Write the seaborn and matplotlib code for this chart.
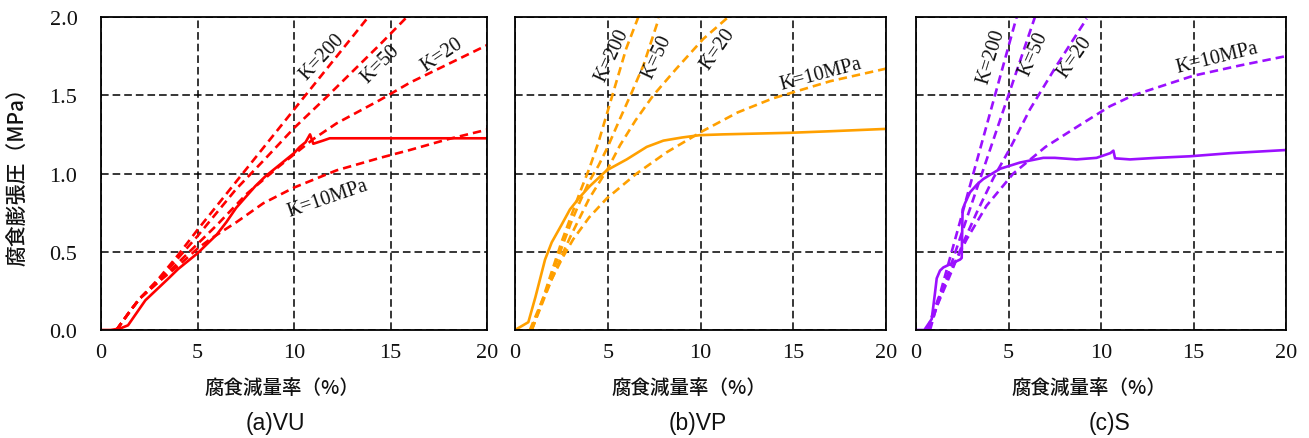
import numpy as np
import pandas as pd
import seaborn as sns
import matplotlib.pyplot as plt

# ---- (a) VU ----
vu_x = [0, 0.5, 1.0, 1.4, 1.85, 2.3, 2.9, 3.5, 4.0, 4.5, 5.0, 5.5, 6.0, 6.5, 7.0, 7.5, 8.0, 8.5, 9.0,
        9.5, 10.0, 10.3, 10.6, 10.83, 11.0, 11.5, 11.85, 14.0, 16.0, 18.0, 20.0]
vu_y = [0, 0.0, 0.01, 0.03, 0.11, 0.19, 0.26, 0.33, 0.39, 0.44, 0.49, 0.55, 0.61, 0.69, 0.78, 0.85, 0.92,
        0.98, 1.03, 1.08, 1.13, 1.17, 1.20, 1.25, 1.19, 1.21, 1.225, 1.225, 1.225, 1.225, 1.225]
vu_k200_x = [0.8, 1.5, 2.0, 3.0, 4.0, 5.0, 13.85]
vu_k200_y = [0, 0.12, 0.2, 0.33, 0.48, 0.64, 2.0]
vu_k50_x = [0.8, 1.5, 2.0, 3.0, 4.0, 5.0, 6.0, 7.0, 8.4, 10.0, 11.7, 14.5, 15.85]
vu_k50_y = [0, 0.12, 0.2, 0.32, 0.46, 0.60, 0.75, 0.90, 1.08, 1.29, 1.49, 1.83, 2.0]
vu_k20_x = [0.8, 1.5, 2.0, 3.0, 4.0, 5.0, 6.0, 7.55, 9.27, 11.0, 12.2, 14.46, 16.0, 18.0, 20.0]
vu_k20_y = [0, 0.12, 0.2, 0.31, 0.43, 0.55, 0.67, 0.87, 1.05, 1.22, 1.32, 1.47, 1.58, 1.70, 1.82]
vu_k10_x = [0.8, 1.5, 2.0, 3.0, 4.0, 5.0, 5.65, 7.03, 8.41, 10.0, 12.2, 14.46, 16.0, 18.0, 20.0]
vu_k10_y = [0, 0.12, 0.2, 0.31, 0.41, 0.52, 0.58, 0.69, 0.81, 0.91, 1.02, 1.10, 1.15, 1.22, 1.28]

# ---- (b) VP ----
vp_x = [0, 0.72, 1.1, 1.62, 1.98, 2.5, 2.96, 3.5, 4.04, 4.94, 6.02, 7.1, 8.0, 9.0, 9.96, 11.2, 13.0, 14.8, 17.0, 20.0]
vp_y = [0, 0.05, 0.21, 0.45, 0.56, 0.67, 0.77, 0.85, 0.92, 1.02, 1.09, 1.17, 1.21, 1.23, 1.245, 1.25, 1.255, 1.26, 1.27, 1.285]
vp_k200_x = [0.9, 1.5, 2.0, 2.5, 3.0, 3.5, 4.0, 4.5, 5.0, 5.5, 6.0, 6.65]
vp_k200_y = [0, 0.2, 0.38, 0.56, 0.72, 0.88, 1.03, 1.2, 1.4, 1.6, 1.8, 2.0]
vp_k50_x = [0.9, 1.5, 2.0, 2.5, 3.0, 3.5, 4.0, 4.5, 5.0, 5.66, 6.3, 6.92, 7.75]
vp_k50_y = [0, 0.19, 0.36, 0.52, 0.68, 0.82, 0.95, 1.05, 1.17, 1.35, 1.52, 1.69, 1.99]
vp_k20_x = [0.9, 1.5, 2.0, 2.5, 3.0, 3.5, 4.0, 5.0, 5.66, 6.5, 7.46, 8.7, 10.15, 11.5]
vp_k20_y = [0, 0.18, 0.33, 0.47, 0.6, 0.72, 0.84, 1.03, 1.18, 1.34, 1.5, 1.67, 1.86, 2.0]
vp_k10_x = [0.8, 1.4, 2.0, 2.6, 3.14, 4.0, 4.94, 6.56, 8.17, 10.1, 12.0, 13.9, 17.0, 20.0]
vp_k10_y = [0, 0.17, 0.33, 0.47, 0.58, 0.72, 0.84, 1.0, 1.135, 1.27, 1.39, 1.48, 1.59, 1.67]

# ---- (c) S ----
s_x = [0, 0.45, 0.85, 1.03, 1.12, 1.3, 1.48, 2.02, 2.38, 2.47, 2.52, 2.65, 2.92, 3.3, 3.64, 4.54, 5.62,
       6.88, 7.5, 8.68, 9.76, 10.5, 10.67, 10.76, 11.57, 13.0, 14.8, 17.0, 20.0]
s_y = [0, 0, 0.07, 0.24, 0.33, 0.38, 0.40, 0.43, 0.45, 0.46, 0.77, 0.81, 0.88, 0.93, 0.965, 1.03, 1.07,
       1.10, 1.10, 1.09, 1.10, 1.13, 1.146, 1.097, 1.09, 1.10, 1.11, 1.13, 1.15]
s_k200_x = [0.76, 5.44]
s_k200_y = [0, 2.0]
s_k50_x = [0.7, 6.43]
s_k50_y = [0, 2.0]
s_k20_x = [0.6, 1.12, 1.84, 2.56, 3.28, 4.18, 5.08, 6.16, 7.6, 9.23]
s_k20_y = [0, 0.15, 0.35, 0.56, 0.75, 0.97, 1.16, 1.41, 1.69, 1.99]
s_k10_x = [0.6, 1.2, 1.84, 2.74, 3.82, 5.26, 7.0, 8.86, 10.49, 11.75, 15.0, 17.5, 20.0]
s_k10_y = [0, 0.2, 0.37, 0.58, 0.795, 1.0, 1.17, 1.31, 1.43, 1.5, 1.625, 1.69, 1.75]

k_names = ['K=200', 'K=50', 'K=20', 'K=10MPa']

panels = [
    dict(title='(a)VU', color='#FF0000', rect=[101, 487],
         solid=(vu_x, vu_y),
         ks=[(vu_k200_x, vu_k200_y), (vu_k50_x, vu_k50_y), (vu_k20_x, vu_k20_y), (vu_k10_x, vu_k10_y)],
         labels=[(11.47, 1.75, 47), (14.46, 1.70, 45), (17.65, 1.76, 34), (11.75, 0.84, 19)],
         title_x=275),
    dict(title='(b)VP', color='#FFA000', rect=[515, 886],
         solid=(vp_x, vp_y),
         ks=[(vp_k200_x, vp_k200_y), (vp_k50_x, vp_k50_y), (vp_k20_x, vp_k20_y), (vp_k10_x, vp_k10_y)],
         labels=[(5.25, 1.76, 65), (7.64, 1.75, 65), (10.96, 1.80, 55), (16.48, 1.64, 15)],
         title_x=698),
    dict(title='(c)S', color='#9B10FF', rect=[916, 1286],
         solid=(s_x, s_y),
         ks=[(s_k200_x, s_k200_y), (s_k50_x, s_k50_y), (s_k20_x, s_k20_y), (s_k10_x, s_k10_y)],
         labels=[(4.09, 1.75, 73), (6.38, 1.77, 66), (8.6, 1.75, 55), (16.25, 1.74, 14)],
         title_x=1110),
]

sns.set_theme(style='white')
plt.rcParams['font.family'] = ['Liberation Serif', 'DejaVu Sans']
cjk = ['Noto Sans CJK JP', 'DejaVu Sans']

W, H = 1309, 439
fig = plt.figure(figsize=(W / 100, H / 100), dpi=100)

for i, p in enumerate(panels):
    left, right = p['rect']
    ax = fig.add_axes([left / W, 1 - 331 / H, (right - left) / W, (331 - 18) / H])
    ax.set_axisbelow(True)

    for kx, ky in p['ks']:
        sns.lineplot(x=kx, y=ky, ax=ax, color=p['color'], estimator=None, sort=False,
                     linewidth=1.9, linestyle=(0, (3.2, 1.9)))
    sx, sy = p['solid']
    sns.lineplot(x=sx, y=sy, ax=ax, color=p['color'], estimator=None, sort=False, linewidth=1.9)

    for name, (tx, ty, rot) in zip(k_names, p['labels']):
        ax.text(tx, ty, name, rotation=rot, rotation_mode='anchor', ha='center', va='center',
                fontsize=14.5, color='#111111')

    ax.set_xlim(0, 20)
    ax.set_ylim(0, 2.0)
    ax.set_xticks([0, 5, 10, 15, 20])
    ax.set_yticks([0, 0.5, 1.0, 1.5, 2.0])
    ax.set_yticklabels(['0.0', '0.5', '1.0', '1.5', '2.0'])
    ax.tick_params(axis='both', length=0, labelsize=16, labelcolor='#111111')
    ax.tick_params(axis='x', pad=9)
    ax.tick_params(axis='y', pad=17)
    if i > 0:
        ax.tick_params(axis='y', labelleft=False)
    ax.grid(True, color='black', linestyle=(0, (5, 2.6)), linewidth=1.1)
    for sp in ax.spines.values():
        sp.set_color('black')
        sp.set_linewidth(1.3)

    ax.set_xlabel('腐食減量率（%）', fontfamily=cjk, fontsize=14, fontweight='medium', color='#111111')
    ax.xaxis.label.set_va('center')
    ax.xaxis.set_label_coords(0.468, -0.182)
    if i == 0:
        ax.set_ylabel('腐食膨張圧（MPa）', fontfamily=cjk, fontsize=15, fontweight='medium', color='#111111')
        ax.yaxis.label.set_va('center')
        ax.yaxis.set_label_coords(-0.215, 0.51)

    fig.text(p['title_x'] / W, 1 - 424 / H, p['title'], ha='center', va='center',
             fontsize=16.5, fontfamily=['Liberation Sans', 'DejaVu Sans'], color='#111111')

fig.savefig('out.png', dpi=100)
